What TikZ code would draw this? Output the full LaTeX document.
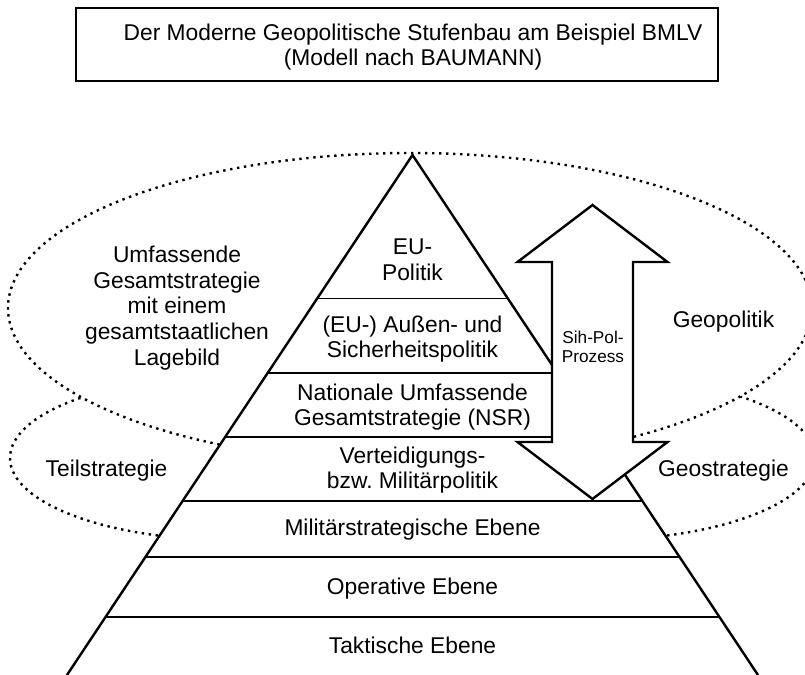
\documentclass[tikz,border=0pt]{standalone}
\usepackage{fontspec}
\setmainfont{Liberation Sans}
\usetikzlibrary{positioning}

\begin{document}
\begin{tikzpicture}[
  x=0.5pt, y=-0.5pt,
  every node/.style={font=\fontsize{11.4}{12.8}\selectfont, align=center, inner sep=0pt},
  smalltext/.style={font=\fontsize{8.6}{9.6}\selectfont},
  dots/.style={line width=1.2pt, dash pattern=on 1.2pt off 2.3pt},
  side/.style={line width=1.2pt, line join=miter},
  level/.style={line width=0.65pt}
]
\useasboundingbox (0,0) rectangle (805,675);
\clip (0,0) rectangle (805,675);

% title
\node[draw, line width=1.3pt, minimum width=321pt, minimum height=36.5pt] (titlebox) at (397,44.5) {};
\node (title) at (413,47) {Der Moderne Geopolitische Stufenbau am Beispiel BMLV\\(Modell nach BAUMANN)};

% dotted fields
\draw[dots] (230,458) ellipse [x radius=220, y radius=82];
\draw[dots] (595,458) ellipse [x radius=220, y radius=82];
\draw[dots, fill=white] (410,308) ellipse [x radius=402, y radius=155];

% pyramid
\coordinate (apex) at (412.5,155);
\coordinate (bl) at (67,675);
\coordinate (br) at (758,675);
\fill[white] (apex) -- (bl) -- (br) -- cycle;
\draw[side] (bl) -- (apex) -- (br);
\draw[level] (317.2,298.5) -- (507.8,298.5);
\draw[level] (267.7,373) -- (557.3,373);
\draw[level] (225.1,437) -- (599.9,437);
\draw[level] (182.6,501) -- (642.4,501);
\draw[level] (145.4,557) -- (679.6,557);
\draw[level] (105.5,617) -- (719.5,617);

% double arrow
\draw[side, fill=white] (592.5,205) -- (667.5,262) -- (633,262) -- (633,442) -- (667.5,442)
  -- (592.5,499) -- (517.5,442) -- (552,442) -- (552,262) -- (517.5,262) -- cycle;
\node[smalltext] (sihpol) at (593,347) {Sih-Pol-\\Prozess};

% levels
\node (eu) at (412.5,260) {EU-\\Politik};
\node (asp) at (412.5,339) {(EU-) Außen- und\\Sicherheitspolitik};
\node (nsr) at (412.5,407) {Nationale Umfassende\\Gesamtstrategie (NSR)};
\node (mil) at (412.5,470) {Verteidigungs-\\bzw.\ Militärpolitik};
\node (mse) at (412.5,530) {Militärstrategische Ebene};
\node (ope) at (412.5,589) {Operative Ebene};
\node (tak) at (412.5,645) {Taktische Ebene};

% fields
\node (ugs) at (177,308) {Umfassende\\Gesamtstrategie\\mit einem\\gesamtstaatlichen\\Lagebild};
\node (teil) at (106.5,471) {Teilstrategie};
\node (geopol) at (723.5,322) {Geopolitik};
\node (geostr) at (723.5,471) {Geostrategie};
\end{tikzpicture}
\end{document}
